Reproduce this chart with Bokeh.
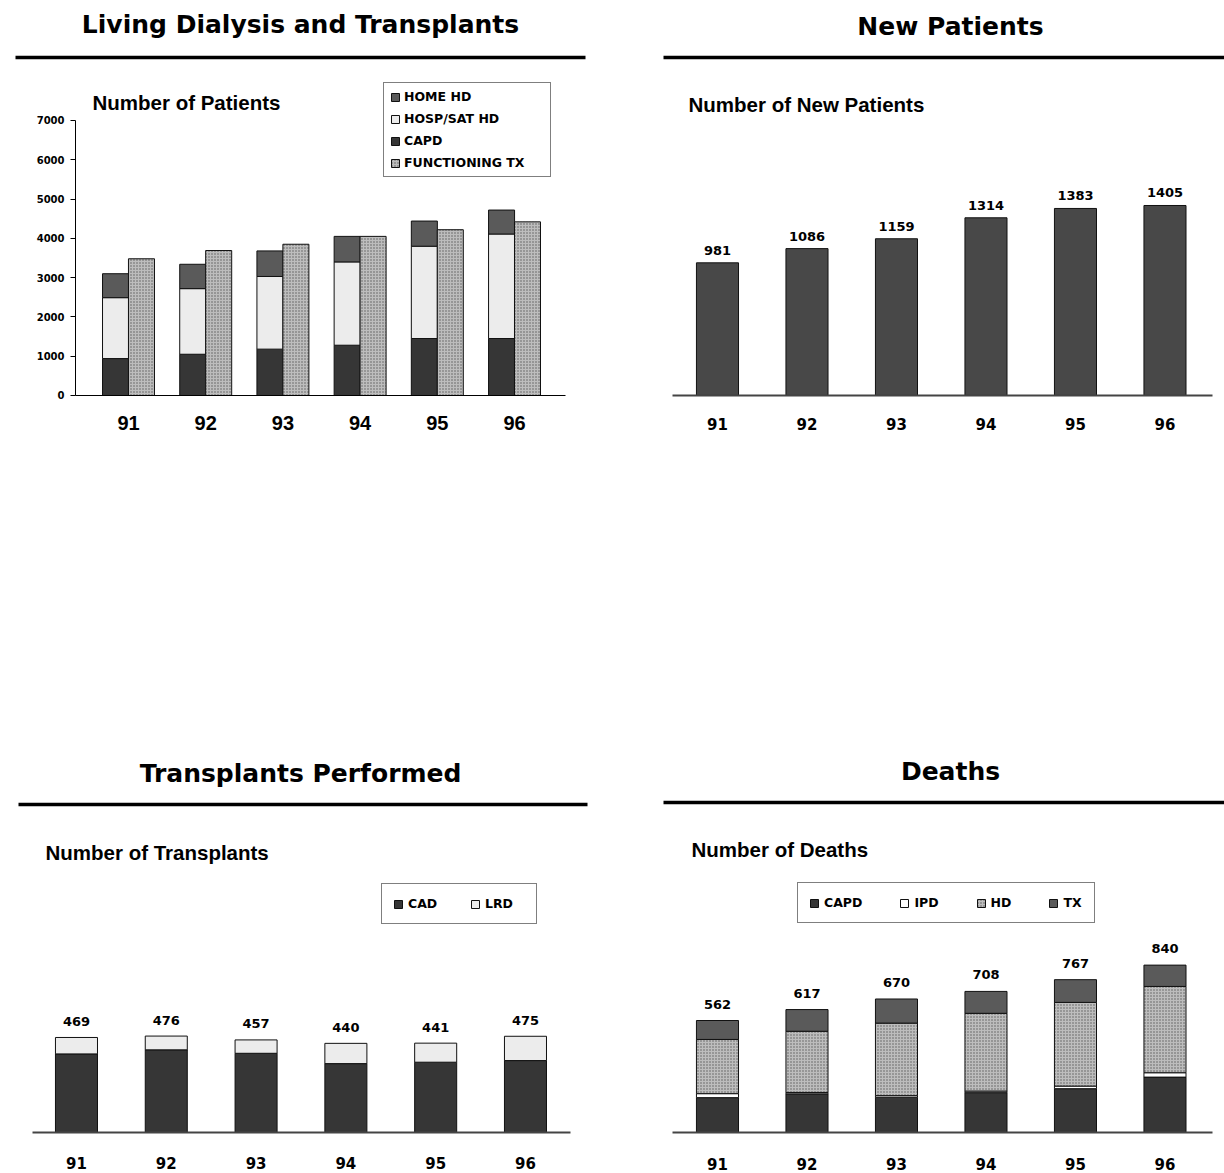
from bokeh.plotting import figure
from bokeh.models import (ColumnDataSource, Range1d, Label, BoxAnnotation, Legend,
                          LegendItem, FixedTicker, SingleIntervalTicker, LinearAxis)
from bokeh.layouts import column, row
from bokeh.transform import dodge
from bokeh.core.properties import value
from bokeh.embed import file_html
from bokeh.resources import INLINE

# ---------------------------------------------------------------- data
years = ["91", "92", "93", "94", "95", "96"]

# living dialysis and transplant patients (year end)
capd_living = [940, 1050, 1180, 1280, 1450, 1450]
hosp_sat_hd = [1550, 1670, 1850, 2120, 2350, 2660]
home_hd = [610, 620, 650, 650, 640, 610]
functioning_tx = [3480, 3690, 3850, 4050, 4220, 4420]

# new patients per year
new_patients = [981, 1086, 1159, 1314, 1383, 1405]

# transplants performed: cadaveric / living related donor
tx_cad = [388, 408, 391, 340, 347, 355]
tx_lrd = [81, 68, 66, 100, 94, 120]

# deaths by modality
death_capd = [175, 194, 177, 200, 220, 278]
death_ipd = [20, 7, 8, 8, 13, 22]
death_hd = [272, 307, 364, 390, 420, 433]
death_tx = [95, 109, 121, 110, 114, 107]

# ---------------------------------------------------------------- style
DARK = "#363636"
MID = "#5a5a5a"
LIGHT = "#ececec"
NEWPAT = "#484848"
EDGE = "#111111"
STIPPLE = dict(fill_color="#bdbdbd", hatch_pattern="dot", hatch_color="#5c5c5c",
               hatch_scale=3, hatch_weight=1.1)
HEAVY = "DejaVu Sans"
ARIAL = "Liberation Sans"
LEGEND_SIZE = "12.5px"

idx = [int(i) for i in range(len(years))]


def style_category_axis(ax, axis_bounds):
    ax.bounds = axis_bounds
    ax.ticker = FixedTicker(ticks=idx)
    ax.major_label_overrides = {i: y for i, y in zip(idx, years)}
    ax.major_tick_line_color = None
    ax.minor_tick_line_color = None
    ax.major_tick_out = 0
    ax.major_tick_in = 0
    ax.major_label_text_font = HEAVY
    ax.major_label_text_font_style = "bold"
    ax.major_label_text_font_size = "15px"
    ax.major_label_text_color = "black"
    ax.axis_line_color = "#444444"
    ax.axis_line_width = 2


def base(height, xr, yr, bottom, axis_bounds, floating_x=False):
    """Panel whose frame spans the full width; the category axis line is
    limited to axis_bounds (data units).  With floating_x the category axis
    sits on y = 0 inside a frame that reaches below it."""
    p = figure(width=612, height=height, x_range=xr, y_range=yr,
               output_backend="svg", toolbar_location=None, tools="",
               y_axis_location=None,
               x_axis_location=None if floating_x else "below",
               min_border_left=0, min_border_right=0,
               min_border_top=0, min_border_bottom=bottom)
    p.xgrid.visible = False
    p.ygrid.visible = False
    p.outline_line_color = None
    p.background_fill_color = "white"
    p.border_fill_color = "white"
    if floating_x:
        ax = LinearAxis(fixed_location=0)
        p.add_layout(ax, "below")
    else:
        ax = p.xaxis[0]
    style_category_axis(ax, axis_bounds)
    return p, ax


def heading(p, fx, fy, title, tx, ty, rule_l, rule_r, rule_y, sub, sx, sy):
    """Big title, heavy rule and subtitle of a panel.  Page positions are
    turned into frame pixels; (fx, fy) is the frame's bottom-left corner."""
    p.add_layout(Label(x=tx - fx, y=fy - ty, x_units="screen", y_units="screen",
                       text=title, text_font=HEAVY, text_font_style="bold",
                       text_font_size="25px", text_align="center",
                       text_baseline="middle", text_color="black"))
    p.add_layout(BoxAnnotation(left=rule_l - fx, right=rule_r - fx,
                               bottom=fy - rule_y - 1.75, top=fy - rule_y + 1.75,
                               left_units="screen", right_units="screen",
                               bottom_units="screen", top_units="screen",
                               fill_color="black", fill_alpha=1.0, line_color=None))
    p.add_layout(Label(x=sx - fx, y=fy - sy, x_units="screen", y_units="screen",
                       text=sub, text_font=ARIAL, text_font_style="bold",
                       text_font_size="20.5px", text_align="left",
                       text_baseline="middle", text_color="black"))


def legend_style(lg):
    lg.label_text_font = HEAVY
    lg.label_text_font_style = "bold"
    lg.label_text_font_size = LEGEND_SIZE
    lg.label_text_color = "black"
    lg.glyph_width = 10
    lg.glyph_height = 10
    lg.margin = 0
    lg.border_line_color = "black"
    lg.border_line_width = 1
    lg.background_fill_color = "white"
    lg.background_fill_alpha = 1.0


# Top row: both frames run from the top of the page down to y=450, with the
# category axes floating on y = 0 (page y=395) so every label stays inside.

# ------------------------------------------------ living dialysis and transplants
p1, xa1 = base(586, Range1d(-1.658, 6.269), Range1d(-1400, 10054), 136,
               (-0.6865, 5.661), floating_x=True)
ya = LinearAxis(fixed_location=-0.6865)
ya.ticker = SingleIntervalTicker(interval=1000)
ya.bounds = (0, 7000)
ya.major_label_text_font = HEAVY
ya.major_label_text_font_style = "bold"
ya.major_label_text_font_size = "10px"
ya.major_label_text_color = "black"
ya.major_tick_out = 5
ya.major_tick_in = 0
ya.minor_tick_line_color = None
ya.major_label_standoff = 6
ya.axis_line_color = "black"
ya.axis_line_width = 1
p1.add_layout(ya, "left")
xa1.axis_line_color = "black"
xa1.axis_line_width = 1
xa1.major_label_text_font = ARIAL
xa1.major_label_text_font_size = "20px"
xa1.major_label_standoff = 21

src1 = ColumnDataSource(dict(x=idx, capd=capd_living, hosp=hosp_sat_hd,
                             home=home_hd, tx=functioning_tx))
stack1 = p1.vbar_stack(["capd", "hosp", "home"], x=dodge("x", -0.168), width=0.337,
                       fill_color=[DARK, LIGHT, MID], line_color=EDGE, line_width=1,
                       source=src1)
r_ftx = p1.vbar(x=dodge("x", 0.168), top="tx", width=0.337, line_color=EDGE,
                line_width=1, source=src1, **STIPPLE)
lg1 = Legend(items=[LegendItem(label="HOME HD", renderers=[stack1[2]]),
                    LegendItem(label="HOSP/SAT HD", renderers=[stack1[1]]),
                    LegendItem(label="CAPD", renderers=[stack1[0]]),
                    LegendItem(label="FUNCTIONING TX", renderers=[r_ftx])],
             location=(383, 273), orientation="vertical")
legend_style(lg1)
lg1.label_height = 14
lg1.label_width = 140
lg1.label_standoff = 4
lg1.spacing = 7
lg1.padding = 6
p1.add_layout(lg1)
heading(p1, 0, 450, "Living Dialysis and Transplants", 300, 24, 15, 585, 57,
        "Number of Patients", 92, 102)

# ------------------------------------------------ new patients
p2, xa2 = base(586, Range1d(-1.173, 5.665), Range1d(-407, 2921), 136,
               (-0.503, 5.531), floating_x=True)
xa2.major_label_standoff = 23
src2 = ColumnDataSource(dict(x=idx, v=new_patients, lbl=[str(v) for v in new_patients]))
p2.vbar(x="x", top="v", width=0.47, fill_color=NEWPAT, line_color=EDGE,
        line_width=1, source=src2)
p2.text(x="x", y="v", text="lbl", source=src2, text_font=value(HEAVY),
        text_font_style="bold", text_font_size=value("13px"), text_align="center",
        text_baseline="middle", y_offset=-12.5, text_color="black")
heading(p2, 612, 450, "New Patients", 950, 26, 663, 1224, 57,
        "Number of New Patients", 688, 104)

# ------------------------------------------------ transplants performed
p3, xa3 = base(587, Range1d(-0.846, 5.969), Range1d(0, 2695), 41, (-0.49, 5.501))
xa3.major_label_standoff = 24
tx_total = [a + b for a, b in zip(tx_cad, tx_lrd)]
src3 = ColumnDataSource(dict(x=idx, cad=tx_cad, lrd=tx_lrd, total=tx_total,
                             lbl=[str(v) for v in tx_total]))
stack3 = p3.vbar_stack(["cad", "lrd"], x="x", width=0.468,
                       fill_color=[DARK, LIGHT], line_color=EDGE, line_width=1,
                       source=src3)
p3.text(x="x", y="total", text="lbl", source=src3, text_font=value(HEAVY),
        text_font_style="bold", text_font_size=value("13px"), text_align="center",
        text_baseline="middle", y_offset=-16, text_color="black")
lg3 = Legend(items=[LegendItem(label="CAD", renderers=[stack3[0]]),
                    LegendItem(label="LRD", renderers=[stack3[1]])],
             location=(381, 208), orientation="horizontal")
legend_style(lg3)
lg3.label_height = 17
lg3.label_width = 40
lg3.label_standoff = 5
lg3.spacing = 22
lg3.padding = 11
p3.add_layout(lg3)
heading(p3, 0, 1132, "Transplants Performed", 300, 773, 18, 587, 804,
        "Number of Transplants", 45, 852)

# ------------------------------------------------ deaths
p4, xa4 = base(587, Range1d(-1.173, 5.665), Range1d(0, 2740), 39, (-0.503, 5.531))
xa4.major_label_standoff = 25
ipd_top = [a + b for a, b in zip(death_capd, death_ipd)]
hd_top = [a + b for a, b in zip(ipd_top, death_hd)]
d_total = [a + b for a, b in zip(hd_top, death_tx)]
src4 = ColumnDataSource(dict(x=idx, capd=death_capd, ipd_top=ipd_top, hd_top=hd_top,
                             total=d_total, lbl=[str(v) for v in d_total]))
r_capd = p4.vbar(x="x", bottom=0, top="capd", width=0.47, fill_color=DARK,
                 line_color=EDGE, line_width=1, source=src4)
r_ipd = p4.vbar(x="x", bottom="capd", top="ipd_top", width=0.47, fill_color="white",
                line_color=EDGE, line_width=1, source=src4)
r_hd = p4.vbar(x="x", bottom="ipd_top", top="hd_top", width=0.47, line_color=EDGE,
               line_width=1, source=src4, **STIPPLE)
r_dtx = p4.vbar(x="x", bottom="hd_top", top="total", width=0.47, fill_color=MID,
                line_color=EDGE, line_width=1, source=src4)
p4.text(x="x", y="total", text="lbl", source=src4, text_font=value(HEAVY),
        text_font_style="bold", text_font_size=value("13px"), text_align="center",
        text_baseline="middle", y_offset=-16.5, text_color="black")
lg4 = Legend(items=[LegendItem(label="CAPD", renderers=[r_capd]),
                    LegendItem(label="IPD", renderers=[r_ipd]),
                    LegendItem(label="HD", renderers=[r_hd]),
                    LegendItem(label="TX", renderers=[r_dtx])],
             location=(185, 209), orientation="horizontal")
legend_style(lg4)
lg4.label_height = 17
lg4.label_standoff = 5
lg4.spacing = 37
lg4.padding = 11
p4.add_layout(lg4)
heading(p4, 612, 1134, "Deaths", 950, 773, 663, 1224, 804,
        "Number of Deaths", 691, 851)

layout = column(row(p1, p2), row(p3, p4))
open("out.html", "w").write(file_html(layout, INLINE))
